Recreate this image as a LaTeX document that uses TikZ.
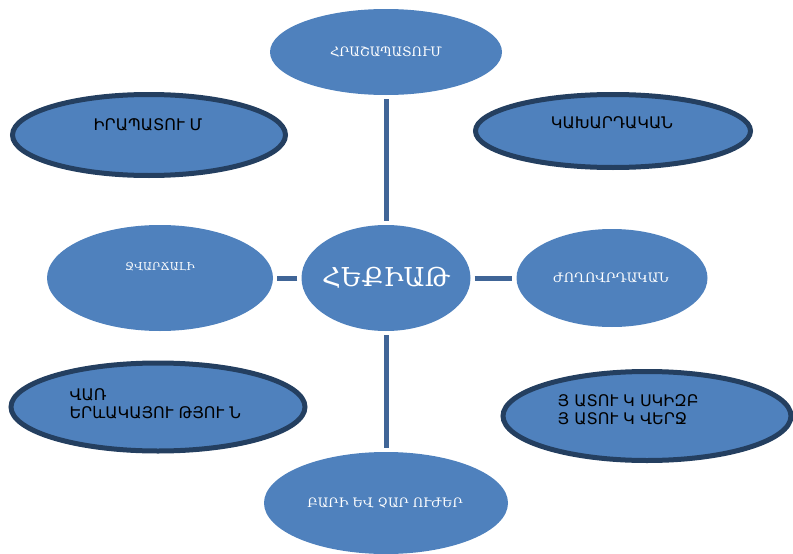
\documentclass[tikz,border=0pt]{standalone}
\usepackage{fontspec}
\setmainfont{DejaVu Sans}
\newfontfamily\armserif{DejaVu Serif}
\usetikzlibrary{shapes.geometric}
\definecolor{OvalClr}{rgb}{0.31,0.506,0.741}
\definecolor{RimClr}{rgb}{0.141,0.247,0.376}
\definecolor{LinkClr}{rgb}{0.25,0.396,0.592}

\begin{document}
\begin{tikzpicture}[x=1pt,y=-1pt,
  oval/.style={ellipse,fill=OvalClr,inner sep=0pt},
  rimoval/.style={oval,draw=RimClr,line width=5pt},
  link/.style={draw=LinkClr,line width=5pt,shorten <=4pt,shorten >=4pt},
  wtext/.style={text=white,font=\armserif\fontsize{#1}{#1}\selectfont},
  btext/.style={text=black,align=left,font=\fontsize{16}{17.5}\selectfont}]
\useasboundingbox (0,0) rectangle (793,554);

\node[oval,minimum width=232pt,minimum height=86pt] (hras) at (386,52) {};
\node[oval,minimum width=169pt,minimum height=106pt] (hek) at (386,278) {};
\node[oval,minimum width=226pt,minimum height=106pt] (zvar) at (160,278) {};
\node[oval,minimum width=191pt,minimum height=98pt] (zhog) at (612,278) {};
\node[oval,minimum width=244pt,minimum height=102pt] (bari) at (386,503) {};

\node[rimoval,minimum width=273pt,minimum height=81pt] (irap) at (149,135) {};
\node[rimoval,minimum width=275pt,minimum height=73pt] (kakh) at (613,131) {};
\node[rimoval,minimum width=294pt,minimum height=88pt] (var) at (158,407) {};
\node[rimoval,minimum width=288pt,minimum height=89pt] (hat) at (647,416) {};

\draw[link] (hek.north) -- (hras.south);
\draw[link] (hek.west) -- (zvar.east);
\draw[link] (hek.east) -- (zhog.west);
\draw[link] (hek.south) -- (bari.north);

\node[wtext=13] (hrasT) at (386,52) {ՀՐԱՇԱՊԱՏՈՒՄ};
\node[wtext=26] (hekT) at (386,278) {ՀԵՔԻԱԹ};
\node[wtext=11] (zvarT) at (160,267) {ՋՎԱՐՃԱԼԻ};
\node[wtext=13] (zhogT) at (611,278) {ԺՈՂՈՎՐԴԱԿԱՆ};
\node[wtext=13] (bariT) at (385,503) {ԲԱՐԻ ԵՎ ՉԱՐ ՈՒԺԵՐ};

\node[btext] (irapT) at (148,125) {ԻՐԱՊԱՏՈՒ Մ};
\node[btext] (kakhT) at (612,123) {ԿԱԽԱՐԴԱԿԱՆ};
\node[btext,anchor=west] (varT) at (66,404) {ՎԱՌ\\ԵՐևԱԿԱՅՈՒ ԹՅՈՒ Ն};
\node[btext,anchor=west] (hatT) at (554,410) {Յ ԱՏՈՒ Կ ՍԿԻԶԲ\\Յ ԱՏՈՒ Կ ՎԵՐՋ};

\end{tikzpicture}
\end{document}
